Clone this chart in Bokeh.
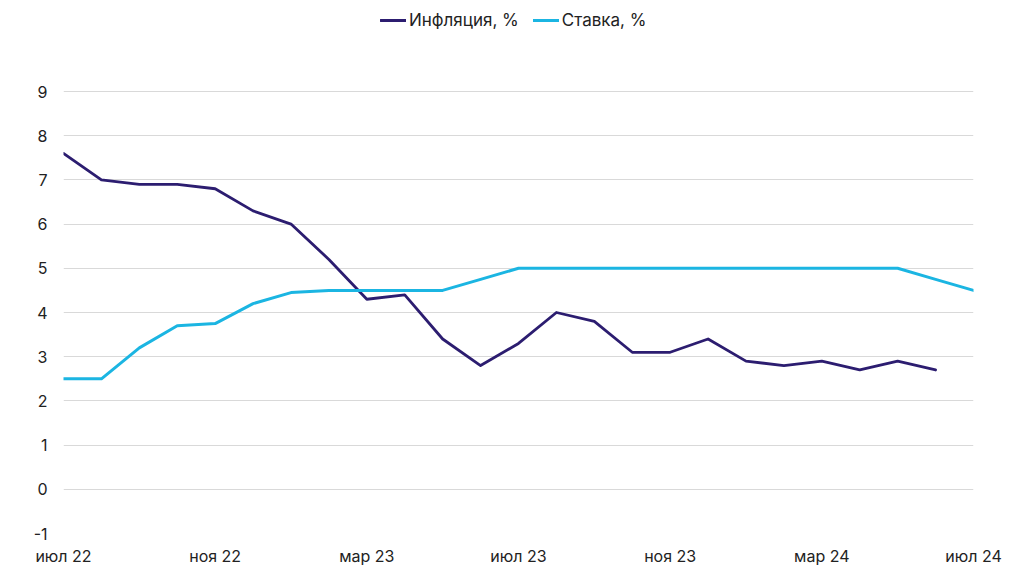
from bokeh.plotting import figure
from bokeh.models import FixedTicker, Legend, LegendItem, ColumnDataSource
from bokeh.embed import file_html
from bokeh.resources import INLINE

# Monthly data, July 2022 .. July 2024 (month index 0..24)
months_infl = list(range(0, 24))
inflation = [7.6, 7.0, 6.9, 6.9, 6.8, 6.3, 6.0, 5.2, 4.3, 4.4, 3.4, 2.8,
             3.3, 4.0, 3.8, 3.1, 3.1, 3.4, 2.9, 2.8, 2.9, 2.7, 2.9, 2.7]
months_rate = list(range(0, 25))
rate = [2.5, 2.5, 3.2, 3.7, 3.75, 4.2, 4.45, 4.5, 4.5, 4.5, 4.5, 4.75,
        5.0, 5.0, 5.0, 5.0, 5.0, 5.0, 5.0, 5.0, 5.0, 5.0, 5.0, 4.75, 4.5]

tick_pos = [0, 4, 8, 12, 16, 20, 24]
tick_labels = ["июл 22", "ноя 22", "мар 23", "июл 23", "ноя 23", "мар 24", "июл 24"]
y_ticks = [-1, 0, 1, 2, 3, 4, 5, 6, 7, 8, 9]

FONT = "Inter"
DARK = "#2C1D70"
CYAN = "#1BB5E2"

# layout geometry (pixels)
W, H = 1024, 586
LEFT, RIGHT, TOP, BOTTOM = 63, 51, 5, 53
GRID_TOP_PX = 91 - TOP          # where the "9" gridline sits inside the frame
frame_h = H - TOP - BOTTOM
px_per_unit = (frame_h - GRID_TOP_PX) / (y_ticks[-1] - y_ticks[0])
y_end = y_ticks[0] + frame_h / px_per_unit

p = figure(width=W, height=H, x_range=(0, 24), y_range=(y_ticks[0], y_end),
           output_backend="svg", toolbar_location=None,
           min_border_left=LEFT, min_border_right=RIGHT, min_border_top=TOP,
           min_border_bottom=BOTTOM)
p.outline_line_color = None
p.background_fill_color = "white"

src_i = ColumnDataSource(dict(x=months_infl, y=inflation))
src_r = ColumnDataSource(dict(x=months_rate, y=rate))
r_infl = p.line("x", "y", source=src_i, line_color=DARK, line_width=2.8,
                line_join="round", line_cap="round")
r_rate = p.line("x", "y", source=src_r, line_color=CYAN, line_width=3,
                line_join="round", line_cap="round")

# axes
p.xaxis.ticker = FixedTicker(ticks=tick_pos)
p.xaxis.major_label_overrides = {t: l for t, l in zip(tick_pos, tick_labels)}
p.yaxis.ticker = FixedTicker(ticks=y_ticks)
p.yaxis.major_label_overrides = {t: str(t) for t in y_ticks}
for ax in (p.xaxis, p.yaxis):
    ax.axis_line_color = None
    ax.major_tick_line_color = None
    ax.minor_tick_line_color = None
    ax.major_tick_out = 0
    ax.major_tick_in = 0
    ax.major_label_text_font = FONT
    ax.major_label_text_font_size = "16px"
    ax.major_label_text_color = "#222222"
p.xaxis.major_label_standoff = 12
p.yaxis.major_label_standoff = 16

p.xgrid.grid_line_color = None
p.ygrid.ticker = FixedTicker(ticks=y_ticks)
p.ygrid.grid_line_color = "#d9d9d9"
p.ygrid.grid_line_width = 1

legend = Legend(items=[LegendItem(label="Инфляция, %", renderers=[r_infl]),
                       LegendItem(label="Ставка, %", renderers=[r_rate])],
                orientation="horizontal", location=(317, frame_h - 25),
                padding=0, margin=0, spacing=14,
                glyph_width=26, glyph_height=20, label_standoff=3,
                label_text_font=FONT, label_text_font_size="17px",
                label_text_color="#222222",
                border_line_color=None, background_fill_alpha=0)
p.add_layout(legend, "center")

open("out.html", "w").write(file_html(p, INLINE))
